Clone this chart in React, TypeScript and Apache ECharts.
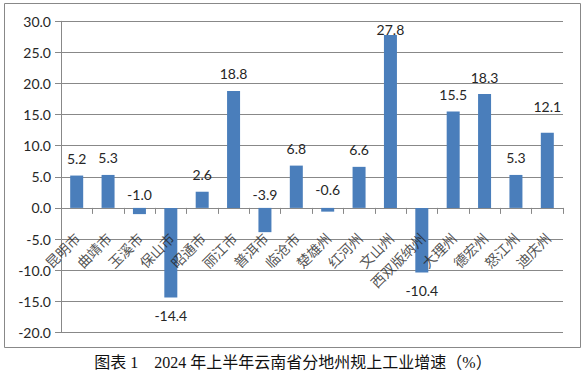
import React, { useEffect, useRef } from "react";
import * as echarts from "echarts";

const categories = [
  "昆明市", "曲靖市", "玉溪市", "保山市", "昭通市", "丽江市", "普洱市", "临沧市",
  "楚雄州", "红河州", "文山州", "西双版纳州", "大理州", "德宏州", "怒江州", "迪庆州",
];
const growth = [5.2, 5.3, -1.0, -14.4, 2.6, 18.8, -3.9, 6.8, -0.6, 6.6, 27.8, -10.4, 15.5, 18.3, 5.3, 12.1];
const yMin = -20;
const yMax = 30;
const yStep = 5;
const title = "图表 1　2024 年上半年云南省分地州规上工业增速（%）";

// label placement tweaks (style only)
const labelTweaks: Record<string, { position: string; distance: number }> = {
  玉溪市: { position: "top", distance: 6 },
  普洱市: { position: "top", distance: 6 },
  楚雄州: { position: "top", distance: 11 },
  文山州: { position: "top", distance: -2 },
  迪庆州: { position: "top", distance: 19 },
};

const GRAY = "#888888";
const TEXT = "#262626";
const NUMFONT = "Lato, 'Open Sans', sans-serif";
const CJKFONT = "'Noto Sans CJK SC', sans-serif";

const PLOT_TOP = 21.3;
const PLOT_BOTTOM = 332.3;
const H = 376;

export default function App() {
  const ref = useRef<HTMLDivElement>(null);
  useEffect(() => {
    if (!ref.current) return;
    const chart = echarts.init(ref.current, null, { renderer: "svg" });
    const data = growth.map((v, i) => {
      const t = labelTweaks[categories[i]];
      const base = v >= 0 ? { position: "top", distance: 10 } : { position: "bottom", distance: 11 };
      return { value: v, label: t ? t : base };
    });
    // category names anchored on the zero line of the value axis
    const nameAnchors = categories.map((c) => [c, 0]);
    // second grid ends exactly at the zero line (carries axis line + ticks)
    const zeroY = PLOT_TOP + ((yMax - 0) / (yMax - yMin)) * (PLOT_BOTTOM - PLOT_TOP);
    chart.setOption({
      animation: false,
      grid: [
        {
          left: 61,
          right: 23,
          top: PLOT_TOP,
          bottom: H - PLOT_BOTTOM,
          containLabel: false,
          outerBoundsMode: "none",
        },
        {
          left: 61,
          right: 23,
          top: PLOT_TOP,
          bottom: H - zeroY,
          containLabel: false,
          outerBoundsMode: "none",
        },
      ],
      graphic: [
        {
          type: "rect",
          shape: { x: 4.5, y: 3.5, width: 576, height: 344 },
          style: { fill: "none", stroke: GRAY, lineWidth: 1 },
          silent: true,
        },
        {
          type: "text",
          left: "center",
          top: 354,
          style: {
            text: title,
            font: `16px 'Liberation Serif', 'Noto Sans CJK SC', serif`,
            fill: "#111111",
          },
        },
      ],
      xAxis: [
        {
          type: "category",
          gridIndex: 0,
          data: categories,
          axisLine: { show: false },
          axisTick: { show: false },
          axisLabel: { show: false },
        },
        {
          type: "category",
          gridIndex: 1,
          data: categories,
          axisLine: { show: true, onZero: false, lineStyle: { color: GRAY, width: 1 } },
          axisTick: { show: true, interval: 0, length: 6, lineStyle: { color: GRAY } },
          axisLabel: { show: false },
        },
      ],
      yAxis: [
        {
          type: "value",
          gridIndex: 0,
          min: yMin,
          max: yMax,
          interval: yStep,
          axisLine: { show: true, lineStyle: { color: GRAY, width: 1 } },
          axisTick: { show: true, length: 6, lineStyle: { color: GRAY } },
          splitLine: { show: true, lineStyle: { color: GRAY, width: 1 } },
          axisLabel: {
            margin: 10,
            fontSize: 14,
            fontFamily: NUMFONT,
            color: TEXT,
            formatter: (v: number) => v.toFixed(1),
          },
        },
        {
          type: "value",
          gridIndex: 1,
          min: 0,
          max: yMax,
          show: false,
        },
      ],
      series: [
        {
          type: "bar",
          xAxisIndex: 0,
          yAxisIndex: 0,
          data,
          barWidth: 13,
          itemStyle: { color: "#4a7ebb" },
          label: {
            show: true,
            fontSize: 14,
            fontFamily: NUMFONT,
            color: TEXT,
            formatter: (p: any) => Number(p.value).toFixed(1),
          },
        },
        {
          type: "scatter",
          xAxisIndex: 0,
          yAxisIndex: 0,
          z: 10,
          silent: true,
          data: nameAnchors,
          symbol: "circle",
          symbolSize: 1,
          itemStyle: { color: "rgba(0,0,0,0)" },
          label: {
            show: true,
            position: [1, 28],
            rotate: 45,
            align: "right",
            verticalAlign: "middle",
            fontSize: 14,
            fontFamily: CJKFONT,
            color: TEXT,
            formatter: (p: any) => p.value[0],
          },
        },
      ],
    });
    return () => chart.dispose();
  }, []);
  return (
    <div
      ref={ref}
      style={{ position: "fixed", left: 0, top: 0, width: 586, height: 376, background: "#ffffff" }}
    />
  );
}
